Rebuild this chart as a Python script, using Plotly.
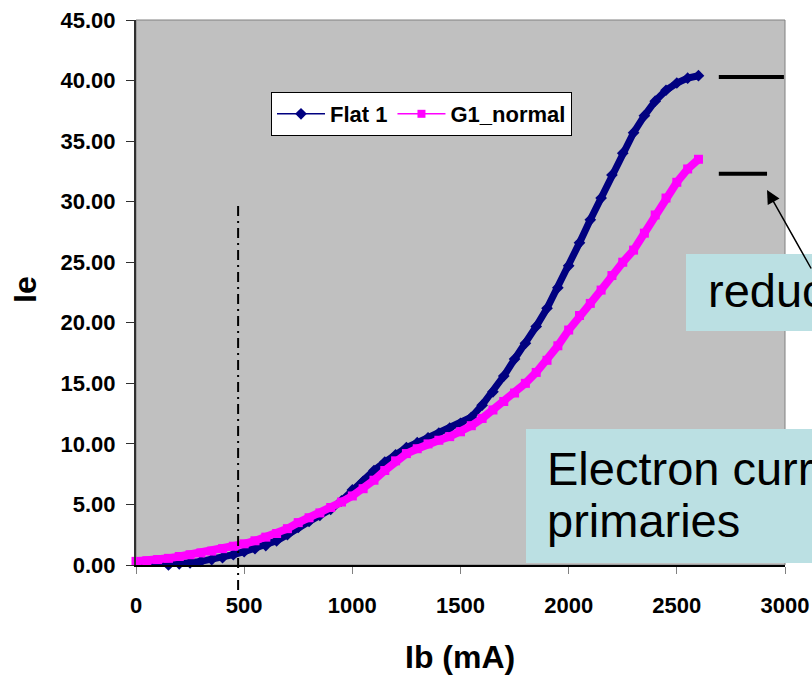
import plotly.graph_objects as go

# Beam current Ib (mA), sampled every 50 mA
ib_ma = [0, 50, 100, 150, 200, 250, 300, 350, 400, 450,
         500, 550, 600, 650, 700, 750, 800, 850, 900, 950,
         1000, 1050, 1100, 1150, 1200, 1250, 1300, 1350, 1400, 1450,
         1500, 1550, 1600, 1650, 1700, 1750, 1800, 1850, 1900, 1950,
         2000, 2050, 2100, 2150, 2200, 2250, 2300, 2350, 2400, 2450,
         2500, 2550, 2600]

# Electron current Ie, "Flat 1"
ie_flat1 = [-0.15, -0.1, -0.05, 0.0, 0.1, 0.18, 0.3, 0.45, 0.6, 0.85,
            1.1, 1.35, 1.6, 2.0, 2.5, 3.1, 3.6, 4.1, 4.6, 5.3,
            6.2, 6.9, 7.8, 8.5, 9.1, 9.7, 10.1, 10.5, 10.9, 11.3,
            11.7, 12.2, 13.2, 14.3, 15.6, 17.0, 18.3, 19.7, 21.2, 22.9,
            24.7, 26.6, 28.5, 30.3, 32.2, 34.0, 35.7, 37.1, 38.3, 39.2,
            39.8, 40.2, 40.4]

# Electron current Ie, "G1_normal"
ie_g1_normal = [0.3, 0.35, 0.45, 0.55, 0.7, 0.85, 1.0, 1.15, 1.35, 1.55,
                1.75, 2.0, 2.3, 2.6, 3.0, 3.5, 3.9, 4.3, 4.75, 5.2,
                5.7, 6.3, 7.0, 7.8, 8.6, 9.2, 9.6, 10.0, 10.3, 10.6,
                11.0, 11.5, 12.1, 12.8, 13.5, 14.2, 15.0, 15.9, 16.9, 18.1,
                19.4, 20.6, 21.6, 22.7, 23.9, 25.0, 26.0, 27.4, 28.9, 30.3,
                31.6, 32.7, 33.5]

series_names = ["Flat 1", "G1_normal"]
x_ticks = [0, 500, 1000, 1500, 2000, 2500, 3000]
y_ticks = [0, 5, 10, 15, 20, 25, 30, 35, 40, 45]

# Reference levels (end values) and the marker line at the operating point
level_values = [40.3, 32.3]
operating_ib = 472

NAVY = "#000080"
MAGENTA = "#FF00FF"
BOX = "#BBE0E3"
FONT = "Liberation Sans, Arial, sans-serif"

# plot area in pixels
L, R, T, B = 136, 785, 20, 565
W, H = R - L, B - T


def px(xp):
    return (xp - L) / W


def py(yp):
    return (B - yp) / H


fig = go.Figure()

# thick data bands
fig.add_trace(go.Scatter(
    x=ib_ma, y=ie_flat1, mode="lines+markers", showlegend=False,
    line=dict(color=NAVY, width=7),
    marker=dict(symbol="diamond", size=9, color=NAVY), cliponaxis=False))
fig.add_trace(go.Scatter(
    x=ib_ma, y=ie_g1_normal, mode="lines+markers", showlegend=False,
    line=dict(color=MAGENTA, width=8),
    marker=dict(symbol="square", size=9, color=MAGENTA), cliponaxis=False))

# legend entries with thin lines
fig.add_trace(go.Scatter(
    x=[None], y=[None], mode="lines+markers", name=series_names[0],
    line=dict(color=NAVY, width=1.5),
    marker=dict(symbol="diamond", size=9, color=NAVY)))
fig.add_trace(go.Scatter(
    x=[None], y=[None], mode="lines+markers", name=series_names[1],
    line=dict(color=MAGENTA, width=1.5),
    marker=dict(symbol="square", size=8, color=MAGENTA)))

shapes = [
    # plot-area frame
    dict(type="rect", xref="paper", yref="paper", x0=0, x1=1, y0=0, y1=1,
         line=dict(color="#808080", width=1), layer="below"),
    # operating point marker line
    dict(type="line", xref="x", yref="paper", x0=operating_ib, x1=operating_ib,
         y0=py(590), y1=30 / 45,
         line=dict(color="black", width=2, dash="10px,5px,2px,5px")),
    # level bars
    dict(type="line", xref="x", yref="y", x0=2694, x1=2995,
         y0=level_values[0], y1=level_values[0],
         line=dict(color="black", width=4)),
    dict(type="line", xref="x", yref="y", x0=2694, x1=2917,
         y0=level_values[1], y1=level_values[1],
         line=dict(color="black", width=4)),
    # callout boxes
    dict(type="rect", xref="paper", yref="paper",
         x0=px(686), x1=px(830), y0=py(331), y1=py(254),
         fillcolor=BOX, line=dict(width=0), layer="above"),
    dict(type="rect", xref="paper", yref="paper",
         x0=px(526), x1=px(830), y0=py(563), y1=py(429),
         fillcolor=BOX, line=dict(width=0), layer="above"),
]

callout_font = dict(family=FONT, size=47, color="black")
annotations = [
    dict(xref="paper", yref="paper", x=px(706), y=py(290),
         xanchor="left", yanchor="middle", showarrow=False, text="reduc",
         font=callout_font),
    dict(xref="paper", yref="paper", x=px(545), y=py(468),
         xanchor="left", yanchor="middle", showarrow=False,
         text="Electron curr", font=callout_font),
    dict(xref="paper", yref="paper", x=px(545), y=py(520),
         xanchor="left", yanchor="middle", showarrow=False,
         text="primaries", font=callout_font),
    dict(xref="paper", yref="paper", x=px(767), y=py(190),
         text="", showarrow=True, ax=58, ay=80, arrowhead=2, arrowsize=1.8,
         arrowwidth=1.5, arrowcolor="black", standoff=0),
    # axis titles
    dict(xref="paper", yref="paper", x=px(460), y=py(657),
         xanchor="center", yanchor="middle", showarrow=False, text="Ib (mA)",
         font=dict(family=FONT, size=32, weight="bold", color="black")),
    dict(xref="paper", yref="paper", x=px(25), y=py(290),
         xanchor="center", yanchor="middle", showarrow=False, text="Ie",
         textangle=-90,
         font=dict(family=FONT, size=32, weight="bold", color="black")),
]

fig.update_layout(
    template="none",
    width=812, height=675,
    margin=dict(l=L, r=812 - R, t=T, b=675 - B, autoexpand=False),
    paper_bgcolor="white", plot_bgcolor="#C0C0C0",
    font=dict(family=FONT, color="black"),
    shapes=shapes, annotations=annotations,
    legend=dict(
        x=px(271), y=py(92), xanchor="left", yanchor="top",
        orientation="h", bgcolor="white", bordercolor="black", borderwidth=1,
        font=dict(family=FONT, size=22, weight="bold", color="black"),
        itemwidth=48, tracegroupgap=0),
    xaxis=dict(
        range=[0, 3000], tickvals=x_ticks, ticktext=[str(v) for v in x_ticks],
        showgrid=False, zeroline=False, showline=True, linecolor="black", linewidth=1.5,
        ticks="outside", ticklen=7, tickcolor="#808080", ticklabelstandoff=13,
        automargin=False,
        tickfont=dict(family=FONT, size=22, weight="bold", color="black"),
    ),
    yaxis=dict(
        range=[0, 45], tickvals=y_ticks, ticktext=[f"{v:.2f}" for v in y_ticks],
        showgrid=False, zeroline=False, showline=True, linecolor="#303030", linewidth=2,
        ticks="outside", ticklen=8, tickcolor="#303030", ticklabelstandoff=6,
        automargin=False,
        tickfont=dict(family=FONT, size=22, weight="bold", color="black"),
    ),
)

fig.write_html("out.html")
